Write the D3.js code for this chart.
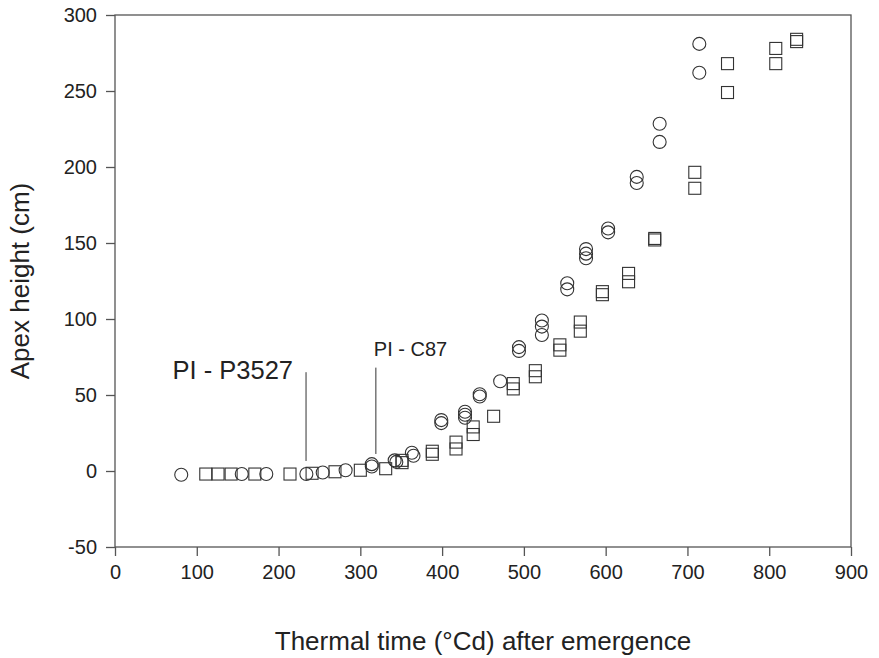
<!DOCTYPE html>
<html lang="en">
<head>
<meta charset="utf-8">
<title>Apex height</title>
<script src="https://cdnjs.cloudflare.com/ajax/libs/d3/7.8.5/d3.min.js"></script>
<style>
  body { margin: 0; background: white; }
  svg { display: block; font-family: "Liberation Sans", Arial, sans-serif; }
  .axis path, .axis line { stroke: #555; stroke-width: 1.3; }
  .axis text { font-size: 20px; fill: #222; }
</style>
</head>
<body>
<div id="chart"></div>
<script>
// circles: thermal time, apex height
const circleTT = [81, 155, 185, 234, 254, 282, 314, 314, 342, 344, 363, 365, 399, 399,
  428, 428, 428, 446, 446, 471, 494, 494, 522, 522, 522, 553, 553, 576, 576, 576,
  603, 603, 638, 638, 666, 666, 714.5, 714.5];
const circleH = [-2.5, -2, -2, -2, -1, 0.5, 3, 4.5, 7, 6, 12, 10, 33.5, 31.5,
  39, 37, 35, 50.5, 49, 59, 81.5, 79, 99, 95, 89.5, 123.5, 119.5, 146, 143, 140,
  159.5, 157, 193.5, 189.5, 228.5, 216.5, 281, 262];

// squares
const squareTT = [111, 126, 142, 171, 214, 241, 269, 300, 331, 351, 351, 388, 388, 417, 417,
  438, 438, 463, 487, 487, 514, 514, 544, 544, 569, 569, 596, 596, 628, 628, 660, 660,
  709, 709, 749, 749, 808, 808, 833.5, 833.5];
const squareH = [-2, -2, -2, -2, -2, -1.5, -0.5, 0.5, 1.5, 5.5, 7, 11, 13, 19, 14.5,
  29, 24, 36, 57.5, 54, 66, 62, 83, 79.5, 98, 92, 118, 116, 130, 124.5, 153, 152,
  196.5, 186, 268, 249, 278, 268, 284, 282.5];

// panicle initiation markers
const piLabels = ["PI - P3527", "PI - C87"];
const piTT = [233.6, 319];
const piTop = [65, 68];
const piBottom = [6.6, 11.2];

const xTicks = [0, 100, 200, 300, 400, 500, 600, 700, 800, 900];
const yTicks = [-50, 0, 50, 100, 150, 200, 250, 300];

const W = 879, H = 658;
const margin = {left: 115, top: 15, right: 28, bottom: 111};
const pw = W - margin.left - margin.right;
const ph = H - margin.top - margin.bottom;

const svg = d3.select("#chart").append("svg")
  .attr("width", W).attr("height", H);

const g = svg.append("g").attr("transform", `translate(${margin.left},${margin.top})`);

const x = d3.scaleLinear().domain([0, 900]).range([0, pw]);
const y = d3.scaleLinear().domain([-50, 300]).range([ph, 0]);

// frame
g.append("rect")
  .attr("width", pw).attr("height", ph)
  .attr("fill", "none").attr("stroke", "#555").attr("stroke-width", 1.3);

const xAxis = g.append("g").attr("class", "axis")
  .attr("transform", `translate(0,${ph})`)
  .call(d3.axisBottom(x).tickValues(xTicks).tickFormat(d => String(d))
    .tickSize(9).tickSizeOuter(0).tickPadding(9));
xAxis.select(".domain").remove();

const yAxis = g.append("g").attr("class", "axis")
  .call(d3.axisLeft(y).tickValues(yTicks).tickFormat(d => String(d))
    .tickSize(9).tickSizeOuter(0).tickPadding(9));
yAxis.select(".domain").remove();

// PI lines and labels
piTT.forEach((t, i) => {
  g.append("line")
    .attr("x1", x(t)).attr("x2", x(t))
    .attr("y1", y(piTop[i])).attr("y2", y(piBottom[i]))
    .attr("stroke", "#333").attr("stroke-width", 1);
});
g.append("text")
  .attr("x", x(piTT[0]) - 13).attr("y", y(piTop[0]) + 7)
  .attr("text-anchor", "end")
  .attr("font-size", 25.5).attr("fill", "#222")
  .text(piLabels[0]);
g.append("text")
  .attr("x", x(piTT[1]) - 2).attr("y", y(piTop[1]) - 12)
  .attr("text-anchor", "start")
  .attr("font-size", 20).attr("fill", "#222")
  .text(piLabels[1]);

// markers
const circles = circleTT.map((t, i) => [t, circleH[i]]);
const squares = squareTT.map((t, i) => [t, squareH[i]]);

g.append("g").selectAll("circle")
  .data(circles).enter().append("circle")
  .attr("cx", d => x(d[0])).attr("cy", d => y(d[1]))
  .attr("r", 6.5)
  .attr("fill", "none").attr("stroke", "#333").attr("stroke-width", 1.1);

const s = 12;
g.append("g").selectAll("rect")
  .data(squares).enter().append("rect")
  .attr("x", d => x(d[0]) - s / 2).attr("y", d => y(d[1]) - s / 2)
  .attr("width", s).attr("height", s)
  .attr("fill", "none").attr("stroke", "#333").attr("stroke-width", 1.1);

// axis titles
svg.append("text")
  .attr("x", margin.left + pw / 2).attr("y", 650)
  .attr("text-anchor", "middle")
  .attr("font-size", 26).attr("fill", "#222")
  .text("Thermal time (°Cd) after emergence");

svg.append("text")
  .attr("transform", `translate(29,${margin.top + ph / 2}) rotate(-90)`)
  .attr("text-anchor", "middle")
  .attr("font-size", 26).attr("fill", "#222")
  .text("Apex height (cm)");
</script>
</body>
</html>
